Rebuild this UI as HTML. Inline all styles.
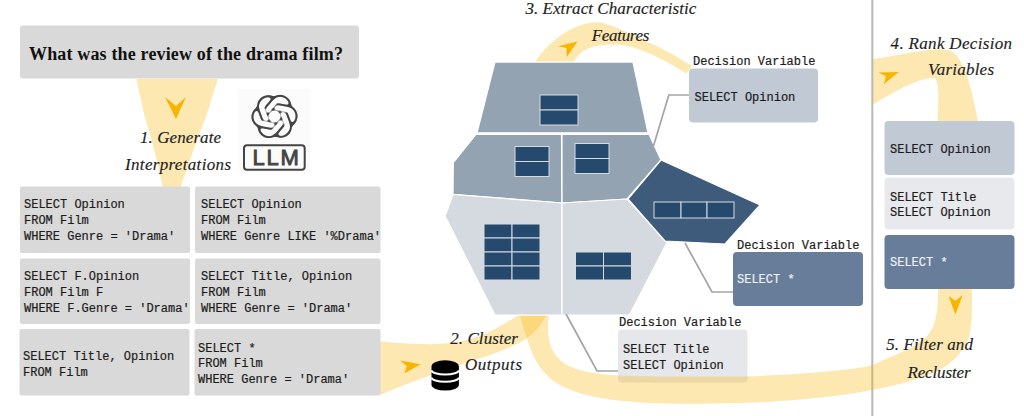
<!DOCTYPE html>
<html><head><meta charset="utf-8">
<style>
html,body{margin:0;padding:0;background:#fff;width:1024px;height:416px;overflow:hidden}
svg{display:block}
.it{font-family:"Liberation Serif",serif;font-style:italic;font-size:17px;fill:#1e1e1e;stroke:#1e1e1e;stroke-width:0.15}
.mo{font-family:"Liberation Mono",monospace;font-size:12px;fill:#1c1c1c;stroke:#1c1c1c;stroke-width:0.2}
</style></head><body>
<svg width="1024" height="416" viewBox="0 0 1024 416">
<!-- separator -->
<rect x="871.3" y="0" width="2" height="416" fill="#b8b8b8"/>

<rect x="618" y="329.5" width="129.5" height="53" rx="4" fill="#e6e7eb"/>
<!-- yellow bands -->
<g fill="#f9b300" fill-opacity="0.3">
  <!-- cone -->
  <path d="M136.3,79 L217.9,79 L206.6,115 L193.4,150 L181.3,185 L171,218 L162.1,185 L154.4,150 L144.3,115 Z"/>
  <!-- band A: from left to polygon bottom -->
  <path d="M370,341.5 L380,341.5 C456,348 474,344 520,314 L547,314 C528,354 490,349 380,395 L370,395 Z"/>
  <!-- band B: from polygon bottom loop to right -->
  <path d="M519.5,314 C540,380 536,409 740,403 C850,399.7 927,382.3 950,363 C973,343.7 972,330 972,289 L938,289 C938,342 926,341 873,364.8 C863.9,368.9 800,375 740,376.6 C596,375 540,386 549,314 Z"/>
  <!-- band top: extract features -->
  <path d="M535,62 C554,33 586,18 604.4,23.2 C621,28.5 668,50 692,66 L686.2,73.6 C674,66 634,40 604.4,45 C588,45 578,54 573.5,62 Z"/>
  <!-- band right: rank -->
  <path d="M873,59 C905,55 930,47 948,50 C962,53 970,80 978,121 L937.5,121 C938,100 940,85 935,78 C920,78 900,88 873,104.5 Z"/>
</g>

<!-- polygons -->
<g stroke="#ffffff" stroke-width="1.25" stroke-linejoin="round">
  <path d="M495,62 L633,62 L648,132.8 L477,132.8 Z" fill="#93a3b1"/>
  <path d="M476,134.3 L561.5,134.3 L562,203 L453,194.3 L453.3,162.5 Z" fill="#93a3b1"/>
  <path d="M562,134.3 L649,134.3 L661,160 L627,199 L562,203 Z" fill="#93a3b1"/>
  <path d="M453,194.5 L562,203 L562,315 L495,315 L445,216 Z" fill="#d5dae1"/>
  <path d="M562,203 L627,199 L667,242.5 L629.5,315 L562,315 Z" fill="#d5dae1"/>
  <path d="M661,160 L760,205 L725,244 L665,241 L628,199 Z" fill="#3e5b7b"/>
</g>
<!-- windows -->
<g fill="#264a6e" stroke="#d4dbe3" stroke-width="1">
  <rect x="540" y="95" width="38" height="15"/><rect x="540" y="110" width="38" height="15"/>
  <rect x="515" y="146.5" width="34" height="15"/><rect x="515" y="161.5" width="34" height="15"/>
  <rect x="575" y="143.5" width="34" height="15"/><rect x="575" y="158.5" width="34" height="15"/>
  <rect x="484" y="224" width="28" height="14"/><rect x="512" y="224" width="28" height="14"/>
  <rect x="484" y="238" width="28" height="14"/><rect x="512" y="238" width="28" height="14"/>
  <rect x="484" y="252" width="28" height="14"/><rect x="512" y="252" width="28" height="14"/>
  <rect x="484" y="266" width="28" height="14"/><rect x="512" y="266" width="28" height="14"/>
  <rect x="575.5" y="252" width="28" height="14"/><rect x="603.5" y="252" width="28" height="14"/>
  <rect x="575.5" y="266" width="28" height="14"/><rect x="603.5" y="266" width="28" height="14"/>
  <rect x="654" y="202" width="27" height="16"/><rect x="681" y="202" width="26" height="16"/><rect x="707" y="202" width="27" height="16"/>
</g>

<!-- leader lines -->
<g fill="none" stroke="#a4a4a4" stroke-width="1.7">
  <path d="M653.5,146 L668.8,95 L689,95"/>
  <path d="M685,243 L712,292 L733,292"/>
  <path d="M566,314 L597,371 L618,371"/>
</g>

<!-- question box -->
<rect x="20" y="25.5" width="339" height="53" rx="3" fill="#d9d9d9"/>
<text x="29" y="59.5" textLength="314" style="font-family:'Liberation Serif',serif;font-weight:bold;font-size:18px;fill:#111">What was the review of the drama film?</text>

<!-- SQL boxes -->
<g fill="#d9d9d9">
  <rect x="20" y="186.5" width="170" height="66.5" rx="2"/>
  <rect x="195" y="186.5" width="185.5" height="66.5" rx="2"/>
  <rect x="20" y="258.5" width="170" height="65.5" rx="2"/>
  <rect x="195" y="258.5" width="185.5" height="65.5" rx="2"/>
  <rect x="19.5" y="329" width="170" height="66.5" rx="2"/>
  <rect x="194.5" y="329" width="186" height="66.5" rx="2"/>
</g>
<g class="mo">
  <text x="24" y="208.2">SELECT Opinion</text>
  <text x="24" y="224">FROM Film</text>
  <text x="24" y="239.6">WHERE Genre = 'Drama'</text>
  <text x="201" y="208.2">SELECT Opinion</text>
  <text x="201" y="224">FROM Film</text>
  <text x="201" y="239.6">WHERE Genre LIKE '%Drama'</text>
  <text x="24" y="280">SELECT F.Opinion</text>
  <text x="24" y="295.6">FROM Film F</text>
  <text x="24" y="311.5">WHERE F.Genre = 'Drama'</text>
  <text x="201" y="280">SELECT Title, Opinion</text>
  <text x="201" y="295.6">FROM Film</text>
  <text x="201" y="311.5">WHERE Genre = 'Drama'</text>
  <text x="23" y="360">SELECT Title, Opinion</text>
  <text x="23" y="375.8">FROM Film</text>
  <text x="198" y="351.6">SELECT *</text>
  <text x="198" y="367.2">FROM Film</text>
  <text x="198" y="382.7">WHERE Genre = 'Drama'</text>
</g>

<!-- decision boxes -->
<rect x="689" y="68.5" width="129" height="54" rx="4" fill="#c1c9d4"/>
<rect x="733" y="252" width="130" height="54" rx="4" fill="#687d99"/>
<g class="mo">
  <text x="693" y="65">Decision Variable</text>
  <text x="694.5" y="100.6">SELECT Opinion</text>
  <text x="737" y="248.5">Decision Variable</text>
  <text x="737" y="283" style="fill:#eef0f4;stroke:#eef0f4">SELECT *</text>
  <text x="619" y="326">Decision Variable</text>
  <text x="623" y="352.9">SELECT Title</text>
  <text x="623" y="369">SELECT Opinion</text>
</g>

<!-- ranked boxes -->
<rect x="884.5" y="121" width="130" height="54" rx="4" fill="#c1c9d4"/>
<rect x="884.5" y="177.5" width="130" height="52" rx="4" fill="#e8e9ed"/>
<rect x="884.5" y="235" width="130" height="54" rx="4" fill="#687d99"/>
<g class="mo">
  <text x="890" y="153">SELECT Opinion</text>
  <text x="890" y="200.5">SELECT Title</text>
  <text x="890" y="216.4">SELECT Opinion</text>
  <text x="890" y="266.2" style="fill:#eef0f4;stroke:#eef0f4">SELECT *</text>
</g>

<!-- arrows -->
<g fill="#f7b500">
  <path d="M165,97 L176,106 L186,97 L176,119 Z"/>
  <path d="M400.3,360.4 L406.8,366 L404.3,373.6 L420.6,364.2 Z"/>
  <path d="M557.9,46.3 L566.4,47.9 L566.7,56.9 L577.6,41.6 Z"/>
  <path d="M878.3,72.4 L886,76.2 L883.9,84 L898.9,72.1 Z"/>
  <path d="M948.5,296.1 L955.4,300.7 L962.7,294.9 L955.4,314.5 Z"/>
</g>

<!-- italic labels -->
<g class="it">
  <text x="140" y="143" textLength="81">1. Generate</text>
  <text x="125" y="169.5" textLength="106">Interpretations</text>
  <text x="525.4" y="13.7" textLength="171">3. Extract Characteristic</text>
  <text x="591.8" y="41" textLength="57.6">Features</text>
  <text x="450.3" y="344" textLength="67.6">2. Cluster</text>
  <text x="465" y="370.3" textLength="57">Outputs</text>
  <text x="890.6" y="49.3" textLength="121.4">4. Rank Decision</text>
  <text x="928" y="75.1" textLength="66">Variables</text>
  <text x="886.2" y="350.3" textLength="86.7">5. Filter and</text>
  <text x="907.4" y="377.5" textLength="63.2">Recluster</text>
</g>

<!-- LLM logo -->
<rect x="238" y="89" width="72" height="83" fill="#fbfbfb"/>
<filter id="rnd" x="240" y="85" width="70" height="65" filterUnits="userSpaceOnUse" color-interpolation-filters="sRGB"><feGaussianBlur stdDeviation="0.8"/><feComponentTransfer><feFuncA type="linear" slope="4" intercept="-1.8"/></feComponentTransfer></filter>
<mask id="er" maskUnits="userSpaceOnUse" x="240" y="85" width="70" height="65"><rect x="240" y="85" width="70" height="65" fill="#fff"/><g transform="translate(274.5,116.5) rotate(40) scale(1.95) translate(-12,-12)"><path d="M22.2819 9.8211a5.9847 5.9847 0 0 0-.5157-4.9108 6.0462 6.0462 0 0 0-6.5098-2.9A6.0651 6.0651 0 0 0 4.9807 4.1818a5.9847 5.9847 0 0 0-3.9977 2.9 6.0462 6.0462 0 0 0 .7427 7.0966 5.98 5.98 0 0 0 .511 4.9107 6.051 6.051 0 0 0 6.5146 2.9001A5.9847 5.9847 0 0 0 13.2599 24a6.0557 6.0557 0 0 0 5.7718-4.2058 5.9894 5.9894 0 0 0 3.9977-2.9001 6.0557 6.0557 0 0 0-.7475-7.0729zm-9.022 12.6081a4.4755 4.4755 0 0 1-2.8764-1.0408l.1419-.0804 4.7783-2.7582a.7948.7948 0 0 0 .3927-.6813v-6.7369l2.02 1.1686a.071.071 0 0 1 .038.052v5.5826a4.504 4.504 0 0 1-4.4945 4.4944zm-9.6607-4.1254a4.4708 4.4708 0 0 1-.5346-3.0137l.142.0852 4.783 2.7582a.7712.7712 0 0 0 .7806 0l5.8428-3.3685v2.3324a.0804.0804 0 0 1-.0332.0615L9.74 19.9502a4.4992 4.4992 0 0 1-6.1408-1.6464zM2.3408 7.8956a4.485 4.485 0 0 1 2.3655-1.9728V11.6a.7664.7664 0 0 0 .3879.6765l5.8144 3.3543-2.0201 1.1685a.0757.0757 0 0 1-.071 0l-4.8303-2.7865A4.504 4.504 0 0 1 2.3408 7.872zm16.5963 3.8558L13.1038 8.364 15.1192 7.2a.0757.0757 0 0 1 .071 0l4.8303 2.7913a4.4944 4.4944 0 0 1-.6765 8.1042v-5.6772a.79.79 0 0 0-.407-.667zm2.0107-3.0231l-.142-.0852-4.7735-2.7818a.7759.7759 0 0 0-.7854 0L9.409 9.2297V6.8974a.0662.0662 0 0 1 .0284-.0615l4.8303-2.7866a4.4992 4.4992 0 0 1 6.6802 4.66zM8.3065 12.863l-2.02-1.1638a.0804.0804 0 0 1-.038-.0567V6.0742a4.4992 4.4992 0 0 1 7.3757-3.4537l-.142.0805L8.704 5.459a.7948.7948 0 0 0-.3927.6813zm1.0976-2.3654l2.602-1.4998 2.6069 1.4998v2.9994l-2.5974 1.4997-2.6067-1.4997Z" fill="none" stroke="#000" stroke-width="0.2"/></g></mask>
<g filter="url(#rnd)"><g mask="url(#er)"><g transform="translate(274.5,116.5) rotate(40) scale(1.95) translate(-12,-12)" fill="#444"><path d="M22.2819 9.8211a5.9847 5.9847 0 0 0-.5157-4.9108 6.0462 6.0462 0 0 0-6.5098-2.9A6.0651 6.0651 0 0 0 4.9807 4.1818a5.9847 5.9847 0 0 0-3.9977 2.9 6.0462 6.0462 0 0 0 .7427 7.0966 5.98 5.98 0 0 0 .511 4.9107 6.051 6.051 0 0 0 6.5146 2.9001A5.9847 5.9847 0 0 0 13.2599 24a6.0557 6.0557 0 0 0 5.7718-4.2058 5.9894 5.9894 0 0 0 3.9977-2.9001 6.0557 6.0557 0 0 0-.7475-7.0729zm-9.022 12.6081a4.4755 4.4755 0 0 1-2.8764-1.0408l.1419-.0804 4.7783-2.7582a.7948.7948 0 0 0 .3927-.6813v-6.7369l2.02 1.1686a.071.071 0 0 1 .038.052v5.5826a4.504 4.504 0 0 1-4.4945 4.4944zm-9.6607-4.1254a4.4708 4.4708 0 0 1-.5346-3.0137l.142.0852 4.783 2.7582a.7712.7712 0 0 0 .7806 0l5.8428-3.3685v2.3324a.0804.0804 0 0 1-.0332.0615L9.74 19.9502a4.4992 4.4992 0 0 1-6.1408-1.6464zM2.3408 7.8956a4.485 4.485 0 0 1 2.3655-1.9728V11.6a.7664.7664 0 0 0 .3879.6765l5.8144 3.3543-2.0201 1.1685a.0757.0757 0 0 1-.071 0l-4.8303-2.7865A4.504 4.504 0 0 1 2.3408 7.872zm16.5963 3.8558L13.1038 8.364 15.1192 7.2a.0757.0757 0 0 1 .071 0l4.8303 2.7913a4.4944 4.4944 0 0 1-.6765 8.1042v-5.6772a.79.79 0 0 0-.407-.667zm2.0107-3.0231l-.142-.0852-4.7735-2.7818a.7759.7759 0 0 0-.7854 0L9.409 9.2297V6.8974a.0662.0662 0 0 1 .0284-.0615l4.8303-2.7866a4.4992 4.4992 0 0 1 6.6802 4.66zM8.3065 12.863l-2.02-1.1638a.0804.0804 0 0 1-.038-.0567V6.0742a4.4992 4.4992 0 0 1 7.3757-3.4537l-.142.0805L8.704 5.459a.7948.7948 0 0 0-.3927.6813zm1.0976-2.3654l2.602-1.4998 2.6069 1.4998v2.9994l-2.5974 1.4997-2.6067-1.4997Z"/></g></g></g>
<rect x="244" y="145.3" width="60.7" height="24.5" rx="3" fill="none" stroke="#444" stroke-width="2"/>
<text x="252.5" y="165.2" style="font-family:'Liberation Sans',sans-serif;font-size:22px;letter-spacing:1.8px;fill:#444;stroke:#444;stroke-width:0.9">LLM</text>

<!-- database icon -->
<g>
  <path d="M431.5,366.5 A13.7,6.3 0 0 1 458.9,366.5 L458.9,385 A13.7,5.5 0 0 1 431.5,385 Z" fill="#000"/>
  <path d="M431.5,370.3 A13.7,4.2 0 0 0 458.9,370.3 M431.5,377.6 A13.7,4.2 0 0 0 458.9,377.6" fill="none" stroke="#fff" stroke-width="2"/>
</g>
</svg>
</body></html>
